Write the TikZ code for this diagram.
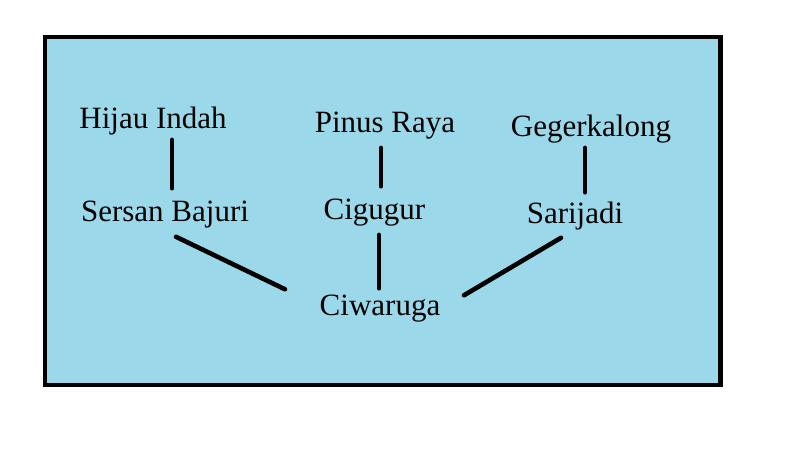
\documentclass[tikz,border=0pt]{standalone}
\usepackage{fontspec}
\setmainfont{Liberation Serif}
\newfontfamily\mapfont{Liberation Serif}
\usepackage{tikz}
\definecolor{mapblue}{RGB}{155,217,234}
\tikzset{
	place/.style={inner sep=0pt, anchor=base, font=\mapfont\fontsize{31}{37}\selectfont},
	link/.style={line width=4.6pt, line cap=round}
}

\begin{document}
\begin{tikzpicture}[x=1pt, y=-1pt]
			\useasboundingbox (0,0) rectangle (798,453);
			\draw[line width=4.6pt, fill=mapblue] (45,37) rectangle (720.5,385);
			\node[place] (hijau) at (153,128) {Hijau Indah};
			\node[place] (pinus) at (385,132) {Pinus Raya};
			\node[place] (geger) at (591,136) {Gegerkalong};
			\node[place] (sersan) at (165,221) {Sersan Bajuri};
			\node[place] (cigugur) at (374.5,219) {Cigugur};
			\node[place] (sarijadi) at (575,223) {Sarijadi};
			\node[place] (ciwaruga) at (380,315) {Ciwaruga};
			\draw[link] ([xshift=19pt,yshift=-5pt]hijau.south) -- ([xshift=7pt,yshift=12pt]sersan.north);
			\draw[link] ([xshift=-4pt,yshift=-9pt]pinus.south) -- ([xshift=6.5pt,yshift=12pt]cigugur.north);
			\draw[link] ([xshift=-6pt,yshift=-5pt]geger.south) -- ([xshift=10pt,yshift=9pt]sarijadi.north);
			\draw[link] ([xshift=11pt,yshift=-9pt]sersan.south) -- ([xshift=-95pt,yshift=5pt]ciwaruga.north);
			\draw[link] ([xshift=4.5pt,yshift=-9pt]cigugur.south) -- ([xshift=-1pt,yshift=6pt]ciwaruga.north);
			\draw[link] ([xshift=-14pt,yshift=-8pt]sarijadi.south) -- ([xshift=84pt,yshift=-1pt]ciwaruga.north);
		\end{tikzpicture}
\end{document}
